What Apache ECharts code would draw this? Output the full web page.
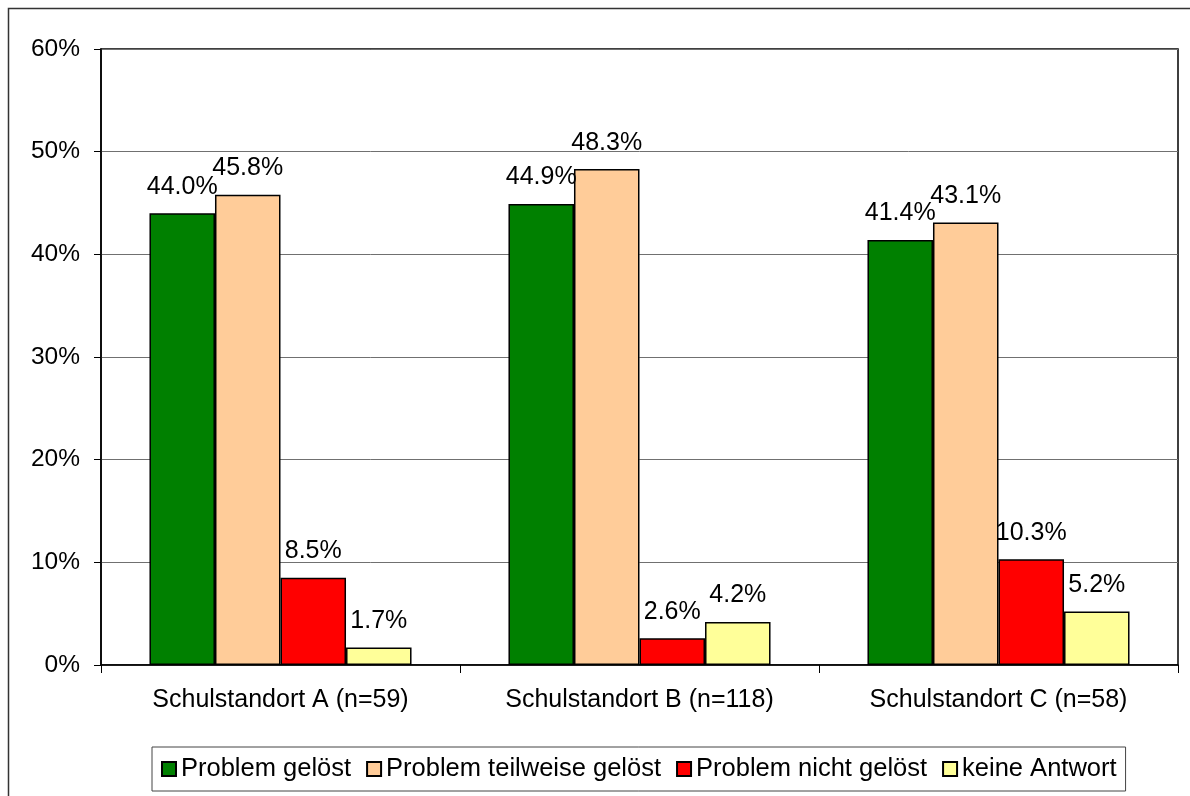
<!DOCTYPE html>
<html>
<head>
<meta charset="utf-8">
<script src="https://cdn.jsdelivr.net/npm/echarts@6/dist/echarts.min.js"></script>
<style>
  html, body { margin: 0; padding: 0; background: #fff; }
  #chart { width: 1190px; height: 796px; }
</style>
</head>
<body>
<div id="chart"></div>
<script>
// Schools (categories on the x axis)
const categories = ['Schulstandort A (n=59)', 'Schulstandort B (n=118)', 'Schulstandort C (n=58)'];

// Share of answers per school, in percent
const solved          = [44.0, 44.9, 41.4];
const partlySolved    = [45.8, 48.3, 43.1];
const notSolved       = [8.5, 2.6, 10.3];
const noAnswer        = [1.7, 4.2, 5.2];

const seriesNames = ['Problem gelöst', 'Problem teilweise gelöst', 'Problem nicht gelöst', 'keine Antwort'];
const seriesColors = ['#008000', '#FFCC99', '#FF0000', '#FFFF99'];
const seriesValues = [solved, partlySolved, notSolved, noAnswer];

const FONT = "'Liberation Sans', Arial, sans-serif";

const chart = echarts.init(document.getElementById('chart'), null, { renderer: 'canvas' });

chart.setOption({
  animation: false,
  backgroundColor: '#ffffff',
  textStyle: { fontFamily: FONT, color: '#000' },
  graphic: [{
    type: 'rect',
    silent: true,
    shape: { x: 8.5, y: 8.5, width: 1400, height: 1000 },
    style: { fill: 'none', stroke: '#333', lineWidth: 1.5 }
  }],
  grid: {
    left: 101, right: 12, top: 49, bottom: 131,
    show: true, borderColor: '#000', borderWidth: 1.5, backgroundColor: '#fff'
  },
  legend: {
    left: 152, top: 747,
    padding: [9, 9, 9, 9],
    borderColor: '#444', borderWidth: 1,
    itemWidth: 14, itemHeight: 14, itemGap: 15,
    icon: 'rect',
    textStyle: { fontFamily: FONT, fontSize: 25.5, color: '#000' },
    data: seriesNames
  },
  xAxis: {
    type: 'category',
    data: categories,
    axisLine: { lineStyle: { color: '#000', width: 1.5 } },
    axisTick: { show: true, length: 8, alignWithLabel: false, lineStyle: { color: '#000', width: 1 } },
    axisLabel: { fontFamily: FONT, fontSize: 25, color: '#000', margin: 23 },
    splitLine: { show: false }
  },
  yAxis: {
    type: 'value',
    min: 0, max: 60, interval: 10,
    axisLine: { show: true, lineStyle: { color: '#000', width: 1.5 } },
    axisTick: { show: true, length: 7, lineStyle: { color: '#000', width: 1 } },
    axisLabel: { fontFamily: FONT, fontSize: 24.5, color: '#000', margin: 21, formatter: '{value}%' },
    splitLine: { show: true, lineStyle: { color: '#707070', width: 1 } }
  },
  series: seriesNames.map((name, i) => ({
    name: name,
    type: 'bar',
    data: seriesValues[i],
    barGap: '0%',
    barCategoryGap: '27%',
    itemStyle: { color: seriesColors[i], borderColor: '#000', borderWidth: 1.5 },
    label: {
      show: true,
      position: 'top',
      distance: 14,
      fontFamily: FONT,
      fontSize: 25,
      color: '#000',
      formatter: p => p.value.toFixed(1) + '%'
    }
  }))
});
</script>
</body>
</html>
